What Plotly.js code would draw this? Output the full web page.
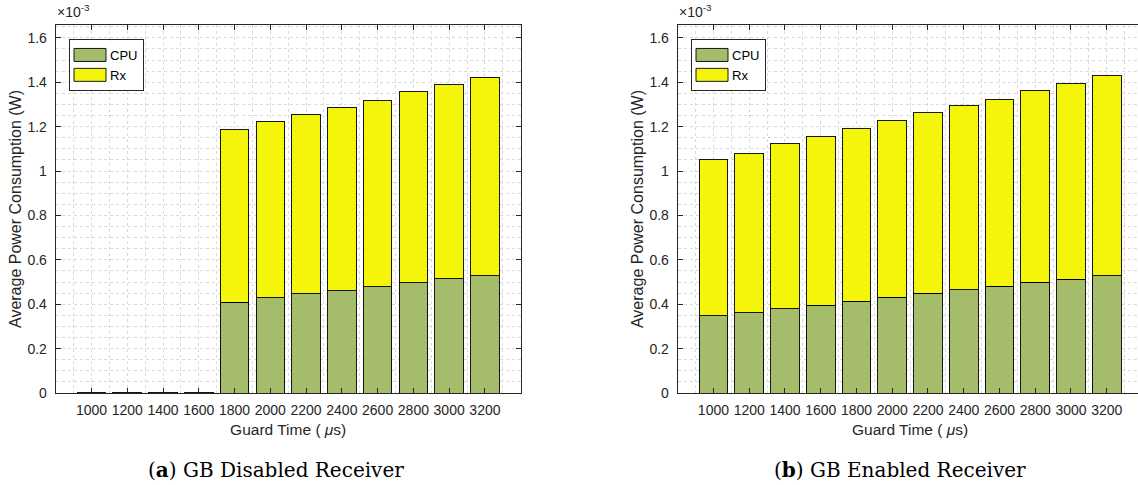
<!DOCTYPE html>
<html>
<head>
<meta charset="utf-8">
<script src="https://cdn.plot.ly/plotly-3.0.1.min.js"></script>
<style>
html,body{margin:0;padding:0;overflow:hidden;background:#fff;width:1138px;height:485px;}
#chart{width:1150px;height:485px;}
</style>
</head>
<body>
<div id="chart"></div>
<script>
// Guard time categories (µs)
const guardTime = [1000, 1200, 1400, 1600, 1800, 2000, 2200, 2400, 2600, 2800, 3000, 3200];
// Values in units of 1e-3 W
const cpuDisabled = [0.002, 0.002, 0.002, 0.002, 0.409, 0.430, 0.448, 0.461, 0.478, 0.497, 0.514, 0.529];
const rxDisabled  = [0.001, 0.001, 0.001, 0.001, 0.777, 0.794, 0.808, 0.826, 0.838, 0.860, 0.874, 0.894];
const cpuEnabled  = [0.347, 0.362, 0.380, 0.395, 0.414, 0.432, 0.449, 0.466, 0.481, 0.500, 0.512, 0.529];
const rxEnabled   = [0.706, 0.716, 0.744, 0.762, 0.779, 0.795, 0.813, 0.829, 0.842, 0.865, 0.882, 0.900];
const yTicks = [0, 0.2, 0.4, 0.6, 0.8, 1, 1.2, 1.4, 1.6];
const yTickText = ['0', '0.2', '0.4', '0.6', '0.8', '1', '1.2', '1.4', '1.6'];
const seriesNames = ['CPU', 'Rx'];
const captions = ['(<b>a</b>) GB Disabled Receiver', '(<b>b</b>) GB Enabled Receiver'];

const W = 1150, H = 485;
const cpuColor = '#A5BD6A', rxColor = '#F5F50C';
const edge = {color: 'rgba(0,0,0,0.9)', width: 1};
const axisCol = '#262626';
const gridCol = '#d9d9d9';
const font = 'Liberation Sans, Arial, Helvetica, sans-serif';

function bar(x, y, name, color, xa, ya, legend, show) {
  return {type: 'bar', x: x, y: y, name: name, xaxis: xa, yaxis: ya, legend: legend,
    marker: {color: color, line: edge}, width: 160, showlegend: show, hoverinfo: 'x+y+name'};
}
const data = [
  bar(guardTime, cpuDisabled, seriesNames[0], cpuColor, 'x', 'y', 'legend', true),
  bar(guardTime, rxDisabled, seriesNames[1], rxColor, 'x', 'y', 'legend', true),
  bar(guardTime, cpuEnabled, seriesNames[0], cpuColor, 'x2', 'y2', 'legend2', true),
  bar(guardTime, rxEnabled, seriesNames[1], rxColor, 'x2', 'y2', 'legend2', true)
];

const yDom = [(H - 393) / H, (H - 25) / H];
function xAxis(dom, anchor) {
  return {domain: dom, anchor: anchor, range: [800, 3400], tickvals: guardTime,
    ticktext: guardTime.map(String), ticks: 'inside', ticklen: 5, tickcolor: axisCol,
    showline: true, linecolor: axisCol, linewidth: 1, mirror: 'ticks',
    showgrid: true, gridcolor: gridCol, griddash: 'dot', gridwidth: 1,
    minor: {dtick: 100, tick0: 800, showgrid: true, gridcolor: gridCol, griddash: 'dot', ticks: ''},
    tickfont: {family: font, size: 14, color: axisCol}, ticklabelstandoff: 4,
    zeroline: false,
    title: {text: 'Guard Time ( <i>μ</i>s)', font: {family: font, size: 15.5, color: axisCol}, standoff: 7}};
}
function yAxis(dom, anchor) {
  return {domain: dom, anchor: anchor, range: [0, 1.658], tickvals: yTicks, ticktext: yTickText,
    ticks: 'inside', ticklen: 5, tickcolor: axisCol,
    showline: true, linecolor: axisCol, linewidth: 1, mirror: 'ticks',
    showgrid: true, gridcolor: gridCol, griddash: 'dot', gridwidth: 1,
    minor: {dtick: 0.05, tick0: 0, showgrid: true, gridcolor: gridCol, griddash: 'dot', ticks: ''},
    tickfont: {family: font, size: 14, color: axisCol}, ticklabelstandoff: 5,
    zeroline: false,
    title: {text: 'Average Power Consumption (W)', font: {family: font, size: 16, color: axisCol}, standoff: 1}};
}
const leftDom = [55.7 / W, 520.7 / W];
const rightDom = [677.7 / W, 1142.5 / W];
function legend(xpx) {
  return {x: xpx / W, y: 1 - 39 / H, xanchor: 'left', yanchor: 'top', bgcolor: '#fff',
    bordercolor: axisCol, borderwidth: 1, font: {family: font, size: 13, color: '#000'},
    tracegroupgap: 0, itemwidth: 30, traceorder: 'normal'};
}
const layout = {
  width: W, height: H, margin: {l: 0, r: 0, t: 0, b: 0}, paper_bgcolor: '#fff', plot_bgcolor: '#fff',
  barmode: 'stack', bargap: 0.2,
  xaxis: xAxis(leftDom, 'y'), yaxis: yAxis(yDom, 'x'),
  xaxis2: xAxis(rightDom, 'y2'), yaxis2: yAxis(yDom, 'x2'),
  legend: legend(69), legend2: legend(691),
  annotations: [
    {xref: 'paper', yref: 'paper', x: 55 / W, y: 1 - 22 / H, xanchor: 'left', yanchor: 'bottom', showarrow: false,
     text: '×10<sup>-3</sup>', font: {family: font, size: 14, color: axisCol}},
    {xref: 'paper', yref: 'paper', x: 677 / W, y: 1 - 22 / H, xanchor: 'left', yanchor: 'bottom', showarrow: false,
     text: '×10<sup>-3</sup>', font: {family: font, size: 14, color: axisCol}},
    {xref: 'paper', yref: 'paper', x: 276 / W, y: 1 - 470 / H, xanchor: 'center', yanchor: 'middle', showarrow: false,
     text: captions[0], font: {family: 'DejaVu Serif, serif', size: 20, color: '#000'}},
    {xref: 'paper', yref: 'paper', x: 900 / W, y: 1 - 470 / H, xanchor: 'center', yanchor: 'middle', showarrow: false,
     text: captions[1], font: {family: 'DejaVu Serif, serif', size: 20, color: '#000'}}
  ]
};
Plotly.newPlot('chart', data, layout, {staticPlot: true, displayModeBar: false}).then(function (gd) {
  // widen legend swatches (both legends) to match the reference's wide filled boxes
  gd.querySelectorAll('.legendpoints path').forEach(function (p) {
    p.setAttribute('d', 'M16,6.5H-16V-6.5H16Z');
  });
});
</script>
</body>
</html>
